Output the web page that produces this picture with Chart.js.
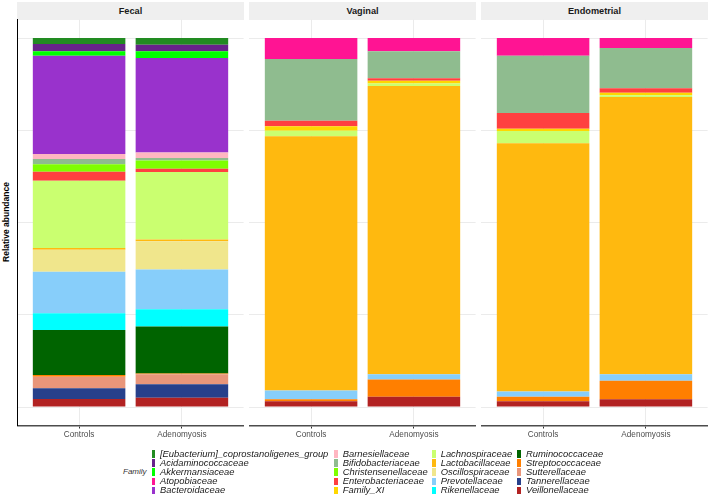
<!DOCTYPE html>
<html>
<head>
<meta charset="utf-8">
<script src="https://cdn.jsdelivr.net/npm/chart.js@4.4.1/dist/chart.umd.min.js"></script>
<style>
  body { margin: 0; background: #fff; width: 709px; height: 497px; position: relative; overflow: hidden;
         font-family: "Liberation Sans", Arial, sans-serif; }
  canvas { position: absolute; top: 0; }
  .strip { position: absolute; top: 1.5px; height: 18px; line-height: 18px; background: #EFEFEF;
           text-align: center; font-weight: bold; font-size: 9.2px; color: #1a1a1a; }
  .ytitle { position: absolute; left: 6px; top: 222px; transform: translate(-50%, -50%) rotate(-90deg);
            font-weight: bold; font-size: 8.5px; white-space: nowrap; color: #000; }
  .lgtitle { position: absolute; left: 123px; top: 467px; font-size: 8px; font-style: italic; color: #333; }
  .sw { position: absolute; width: 3.6px; height: 7.5px; }
  .lt { position: absolute; font-size: 9.4px; font-style: italic; color: #1a1a1a; white-space: nowrap; line-height: 10px; }
</style>
</head>
<body>
<div class="ytitle">Relative abundance</div>
<div class="lgtitle">Family</div>
<script>
const categories = ['Controls', 'Adenomyosis']
const sites = ['Fecal', 'Vaginal', 'Endometrial']
const families = [
  '[Eubacterium]_coprostanoligenes_group', 'Acidaminococcaceae', 'Akkermansiaceae', 'Atopobiaceae',
  'Bacteroidaceae', 'Barnesiellaceae', 'Bifidobacteriaceae', 'Christensenellaceae', 'Enterobacteriaceae',
  'Family_XI', 'Lachnospiraceae', 'Lactobacillaceae', 'Oscillospiraceae', 'Prevotellaceae',
  'Rikenellaceae', 'Ruminococcaceae', 'Streptococcaceae', 'Sutterellaceae', 'Tannerellaceae', 'Veillonellaceae'
]
const familyColors = [
  '#228B22', '#68228B', '#00FF00', '#FF1493', '#9932CC', '#FFB6C1', '#8FBC8F', '#7FFF00', '#FF4040',
  '#FFD700', '#CAFF70', '#FFB90F', '#F0E68C', '#87CEFA', '#00FFFF', '#006400', '#FF7F00', '#E9967A',
  '#27408B', '#B22222'
]

// relative abundance per family (same order as families)
const fecalControls = [0.016, 0.020, 0.012, 0, 0.266, 0.014, 0.014, 0.020, 0.025, 0, 0.182, 0.005, 0.059, 0.113, 0.045, 0.122, 0.005, 0.031, 0.029, 0.022]
const fecalAdenomyosis = [0.018, 0.018, 0.018, 0, 0.256, 0.015, 0.007, 0.022, 0.009, 0, 0.183, 0.005, 0.076, 0.108, 0.047, 0.127, 0.002, 0.027, 0.037, 0.025]
const vaginalControls = [0, 0, 0, 0.057, 0, 0, 0.167, 0, 0.015, 0.012, 0.015, 0.689, 0, 0.024, 0, 0, 0.005, 0, 0, 0.016]
const vaginalAdenomyosis = [0, 0, 0, 0.036, 0, 0, 0.073, 0, 0.007, 0.007, 0.007, 0.781, 0, 0.014, 0, 0, 0.047, 0, 0, 0.028]
const endometrialControls = [0, 0, 0, 0.048, 0, 0, 0.155, 0, 0.043, 0.006, 0.033, 0.673, 0, 0.014, 0, 0, 0.012, 0, 0, 0.016]
const endometrialAdenomyosis = [0, 0, 0, 0.027, 0, 0, 0.109, 0, 0.012, 0.007, 0.005, 0.751, 0, 0.018, 0, 0, 0.050, 0, 0, 0.021]

const yTicks = [0, 0.25, 0.5, 0.75, 1]

const panelData = [
  [fecalControls, fecalAdenomyosis],
  [vaginalControls, vaginalAdenomyosis],
  [endometrialControls, endometrialAdenomyosis]
]

const H = 450
const panelLeft = [17.4, 249.4, 481.4]
const panelWidth = 226.2
const plotTop = 19.6
const plotBottom = 425.5
const fontFamily = '"Liberation Sans", Arial, sans-serif'

function buildPanel (i) {
  const [controls, adeno] = panelData[i]

  const strip = document.createElement('div')
  strip.className = 'strip'
  strip.style.left = panelLeft[i] + 'px'
  strip.style.width = panelWidth + 'px'
  strip.textContent = sites[i]
  document.body.appendChild(strip)

  const canvasLeft = Math.floor(panelLeft[i] - 3)
  const canvasWidth = Math.ceil(panelLeft[i] + panelWidth + 3) - canvasLeft
  const cv = document.createElement('canvas')
  cv.width = canvasWidth
  cv.height = H
  cv.style.left = canvasLeft + 'px'
  cv.style.width = canvasWidth + 'px'
  cv.style.height = H + 'px'
  document.body.appendChild(cv)

  // first family must sit on top of the stack, so add datasets bottom-up
  const datasets = families.map((f, k) => ({
    label: f,
    data: [{ x: 1, y: controls[k] }, { x: 2, y: adeno[k] }],
    backgroundColor: familyColors[k],
    borderWidth: 0,
    stack: 'all',
    barPercentage: 0.9,
    categoryPercentage: 1
  })).reverse()

  new Chart(cv, {
    type: 'bar',
    data: { datasets },
    options: {
      responsive: false,
      animation: false,
      layout: {
        padding: {
          left: panelLeft[i] - canvasLeft,
          right: canvasLeft + canvasWidth - (panelLeft[i] + panelWidth),
          top: plotTop,
          bottom: 0
        }
      },
      plugins: { legend: { display: false }, tooltip: { enabled: false } },
      scales: {
        x: {
          type: 'linear',
          min: 0.4,
          max: 2.6,
          offset: false,
          afterBuildTicks: (s) => { s.ticks = [{ value: 1 }, { value: 2 }] },
          afterFit: (s) => { s.height = H - plotBottom },
          ticks: {
            callback: (v) => categories[v - 1],
            font: { size: 8.2, family: fontFamily },
            color: '#4D4D4D',
            padding: 1,
            maxRotation: 0,
            autoSkip: false
          },
          grid: { offset: false, color: '#EBEBEB', lineWidth: 1, tickColor: '#333333', tickLength: 3 },
          border: { color: '#4D4D4D', width: 1.6 }
        },
        y: {
          stacked: true,
          min: -0.05,
          max: 1.05,
          afterBuildTicks: (s) => { s.ticks = yTicks.map(v => ({ value: v })) },
          afterFit: (s) => { s.width = 0 },
          ticks: { display: false },
          grid: { color: '#EBEBEB', lineWidth: 1, drawTicks: false },
          border: { display: i === 0, color: '#000000', width: 1 }
        }
      }
    }
  })
}

for (let i = 0; i < sites.length; i++) buildPanel(i)

// legend, 4 columns of 5
const swatchX = [151.5, 334, 432.3, 517.3]
const textX = [160, 342.7, 440.7, 526]
const rowY = [454, 463.1, 472.2, 481.3, 490.3]
families.forEach((f, k) => {
  const col = Math.floor(k / 5)
  const row = k % 5
  const sw = document.createElement('div')
  sw.className = 'sw'
  sw.style.left = swatchX[col] + 'px'
  sw.style.top = (rowY[row] - 3.75) + 'px'
  sw.style.background = familyColors[k]
  document.body.appendChild(sw)
  const t = document.createElement('div')
  t.className = 'lt'
  t.style.left = textX[col] + 'px'
  t.style.top = (rowY[row] - 5) + 'px'
  t.textContent = f
  document.body.appendChild(t)
})
</script>
</body>
</html>
